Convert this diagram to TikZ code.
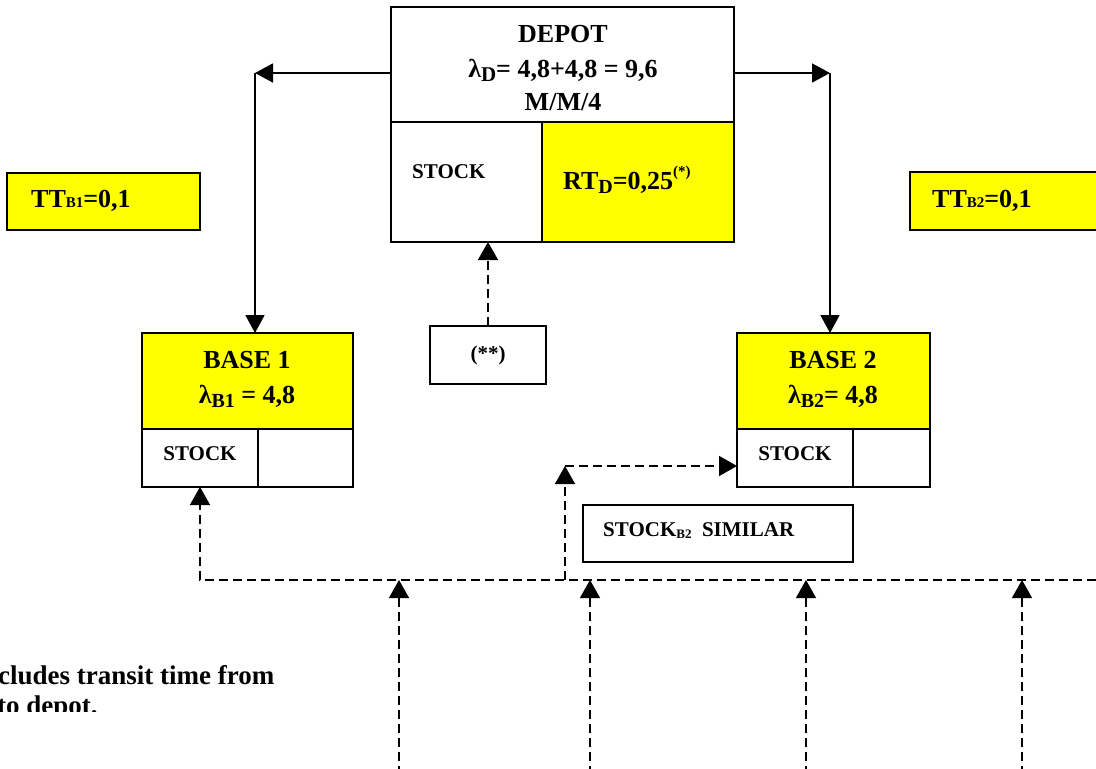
\documentclass[tikz,border=0pt]{standalone}
\usepackage{fontspec}
\setmainfont{Liberation Serif}
\usetikzlibrary{arrows.meta}
\definecolor{boxyellow}{RGB}{255,255,0}
\newcommand\lowsub[2][20]{\raisebox{-4pt}{\fontsize{#1}{#1}\selectfont #2}}
\begin{document}
\begin{tikzpicture}[x=1pt,y=-1pt,
  cell/.style={draw, line width=1.8pt, rectangle, inner sep=0pt, outer sep=0pt, anchor=north west, align=center,
    font=\bfseries\fontsize{26}{34}\selectfont},
  ycell/.style={cell, fill=boxyellow},
  small/.style={font=\bfseries\fontsize{21}{25}\selectfont, inner sep=0pt},
  big/.style={font=\bfseries\fontsize{26}{30}\selectfont, inner sep=0pt},
  solidarrow/.style={line width=1.8pt, -{Triangle[length=18pt,width=19pt]}},
  dashline/.style={line width=1.5pt, dash pattern=on 9pt off 5pt},
  dasharrow/.style={dashline, -{Triangle[length=18pt,width=20pt]}}
]
\useasboundingbox (0,0) rectangle (1096,769);

% Depot
\node[cell, minimum width=343pt, minimum height=115pt] (depotTop) at (391,7) {};
\node[big, anchor=base] (depotL1) at (563,42) {DEPOT};
\node[big, anchor=base] (depotL2) at (563,77) {λ\lowsub[21]{D}= 4,8+4,8 = 9,6};
\node[big, anchor=base] (depotL3) at (563,110) {M/M/4};
\node[cell, minimum width=151pt, minimum height=120pt] (depotStock) at (391,122) {};
\node[ycell, minimum width=192pt, minimum height=120pt] (depotRT) at (542,122) {};
\node[big, anchor=base west] (depotRTText) at (563,189)
  {RT\lowsub{D}=0,25\raisebox{0.5em}{\fontsize{15}{15}\selectfont(*)}};
\node[small, anchor=base west] (depotStockText) at (412,178) {STOCK};

% Transit time boxes
\node[ycell, minimum width=193pt, minimum height=57pt] (tt1) at (7,173) {};
\node[big, anchor=base west] (tt1Text) at (31,207) {TT{\fontsize{15}{15}\selectfont B1}=0,1};
\node[ycell, minimum width=200pt, minimum height=58pt] (tt2) at (910,172) {};
\node[big, anchor=base west] (tt2Text) at (932,207) {TT{\fontsize{15}{15}\selectfont B2}=0,1};

% Base 1
\node[ycell, minimum width=211pt, minimum height=96pt] (base1Top) at (142,333) {};
\node[big, anchor=base] (base1L1) at (247,368) {BASE 1};
\node[big, anchor=base] (base1L2) at (247,403) {λ\lowsub{B1} = 4,8};
\node[cell, minimum width=116pt, minimum height=58pt] (base1Stock) at (142,429) {};
\node[cell, minimum width=95pt, minimum height=58pt] (base1Right) at (258,429) {};
\node[small, anchor=base] (base1StockText) at (200,460) {STOCK};

% Base 2
\node[ycell, minimum width=193pt, minimum height=96pt] (base2Top) at (737,333) {};
\node[big, anchor=base] (base2L1) at (833,368) {BASE 2};
\node[big, anchor=base] (base2L2) at (833,403) {λ\lowsub{B2}= 4,8};
\node[cell, minimum width=116pt, minimum height=58pt] (base2Stock) at (737,429) {};
\node[cell, minimum width=77pt, minimum height=58pt] (base2Right) at (853,429) {};
\node[small, anchor=base] (base2StockText) at (795,460) {STOCK};

% (**) box
\node[cell, minimum width=116pt, minimum height=58pt, font=\bfseries\fontsize{21}{25}\selectfont] (starBox) at (430,326) {(**)};

% Stock B2 similar
\node[cell, minimum width=270pt, minimum height=57pt] (similar) at (583,505) {};
\node[small, anchor=base west] (similarText) at (603,536)
  {STOCK\raisebox{-2pt}{\fontsize{13}{13}\selectfont B2}\ \ SIMILAR};

% Solid arrows from depot
\coordinate (cL) at (255,73);
\coordinate (cR) at (830,73);
\draw[solidarrow] (depotTop.west |- cL) -- (cL);
\draw[solidarrow] (cL) -- (cL |- base1Top.north);
\draw[solidarrow] (depotTop.east |- cR) -- (cR);
\draw[solidarrow] (cR) -- (cR |- base2Top.north);

% Dashed arrows
\draw[dasharrow] (starBox.north) -- (starBox.north |- depotStock.south);
\coordinate (hR) at (1110,580);
\draw[dasharrow] (hR) -- (hR -| base1Stock.south) -- (base1Stock.south);
\coordinate (br) at (565,580);
\coordinate (bc) at (565,466);
\draw[dasharrow] (br) -- (bc);
\draw[dasharrow] (bc) -- (bc -| base2Stock.west);
\coordinate (b1) at (399,775);
\coordinate (b2) at (590,775);
\coordinate (b3) at (806,775);
\coordinate (b4) at (1022,775);
\foreach \b in {b1,b2,b3,b4}
  \draw[dasharrow] (\b) -- (\b |- hR);

% Footnote (clipped)
\begin{scope}
  \clip (-10,600) rectangle (420,711);
  \node[inner sep=0pt, anchor=base west, font=\bfseries\fontsize{27}{30}\selectfont] (note1) at (-2,684)
    {cludes transit time from};
  \node[inner sep=0pt, anchor=base west, font=\bfseries\fontsize{27}{30}\selectfont] (note2) at (-3,714)
    {to depot.};
\end{scope}
\end{tikzpicture}
\end{document}
